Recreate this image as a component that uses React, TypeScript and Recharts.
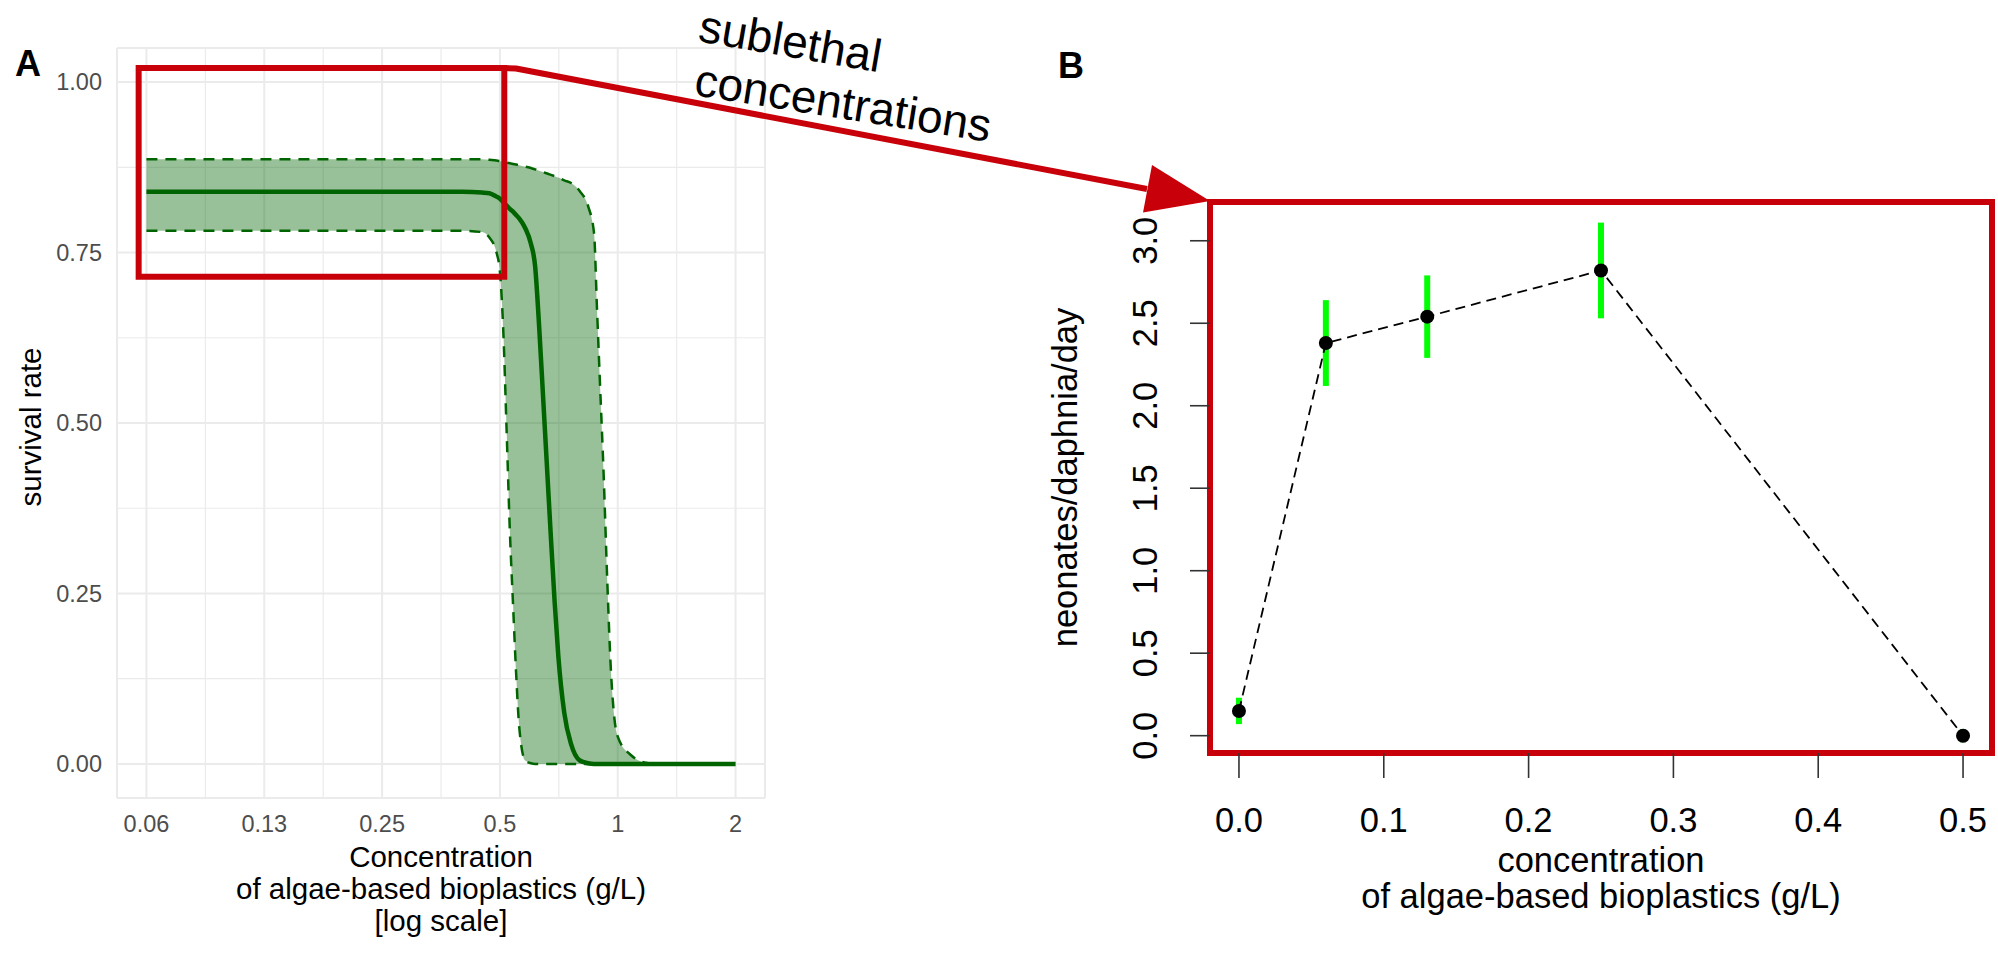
import React from 'react'
import {
  ComposedChart, Area, Line, XAxis, YAxis, CartesianGrid,
  ReferenceLine, ReferenceArea, ErrorBar,
} from 'recharts'

const FONT = '"Liberation Sans", Arial, Helvetica, sans-serif'
const RED = '#c8000a'
const DARKGREEN = '#006400'

// Panel A: survival rate vs concentration (log scale), fitted curve + band
const CONC_A = [0.0625, 0.2, 0.4, 0.45, 0.47, 0.49, 0.5, 0.51, 0.52, 0.53, 0.54, 0.55, 0.56, 0.58, 0.6, 0.615, 0.63, 0.645, 0.66, 0.675, 0.69, 0.705, 0.73, 0.76, 0.8, 0.84, 0.87, 0.885, 0.9, 0.92, 0.94, 0.96, 0.98, 1.0, 1.08, 1.2, 1.4, 2.0]
const SURV_FIT = [0.839, 0.839, 0.839, 0.838, 0.837, 0.832, 0.829, 0.824, 0.819, 0.814, 0.81, 0.805, 0.8, 0.786, 0.763, 0.73, 0.64, 0.535, 0.432, 0.331, 0.237, 0.158, 0.075, 0.029, 0.005, 0.001, 0, 0, 0, 0, 0, 0, 0, 0, 0, 0, 0, 0]
const SURV_UPPER = [0.887, 0.887, 0.887, 0.887, 0.886, 0.885, 0.884, 0.883, 0.882, 0.881, 0.88, 0.879, 0.878, 0.876, 0.874, 0.872, 0.87, 0.868, 0.866, 0.864, 0.862, 0.86, 0.856, 0.852, 0.84, 0.818, 0.778, 0.668, 0.563, 0.427, 0.27, 0.14, 0.068, 0.04, 0.013, 0.001, 0, 0]
const SURV_LOWER = [0.782, 0.782, 0.782, 0.78, 0.772, 0.75, 0.722, 0.635, 0.49, 0.343, 0.235, 0.133, 0.055, 0.005, 0.001, 0, 0, 0, 0, 0, 0, 0, 0, 0, 0, 0, 0, 0, 0, 0, 0, 0, 0, 0, 0, 0, 0, 0]

const A_X_TICKS = [0.0625, 0.125, 0.25, 0.5, 1, 2]
const A_X_LABELS = ['0.06', '0.13', '0.25', '0.5', '1', '2']
const A_Y_TICKS = [0, 0.25, 0.5, 0.75, 1]
const A_MINOR_X = [0.0884, 0.1768, 0.3536, 0.7071, 1.4142]
const A_MINOR_Y = [0.125, 0.375, 0.625, 0.875]
const A_XTITLE = ['Concentration', 'of algae-based bioplastics (g/L)', '[log scale]']

// Panel B: reproduction at sublethal concentrations
const B_CONC = [0, 0.06, 0.13, 0.25, 0.5]
const B_NEONATES = [0.15, 2.38, 2.54, 2.82, 0]
const B_ERR = [0.08, 0.26, 0.25, 0.29, 0.04]
const B_X_TICKS = [0, 0.1, 0.2, 0.3, 0.4, 0.5]
const B_Y_TICKS = [0, 0.5, 1, 1.5, 2, 2.5, 3]
const B_XTITLE = ['concentration', 'of algae-based bioplastics (g/L)']

function XTitle({ viewBox, lines, first, step, size, fallback }: any) {
  const vb = viewBox || fallback
  const cx = vb.x + vb.width / 2
  return (
    <text textAnchor="middle" fontSize={size} fill="#000" fontFamily={FONT}>
      {lines.map((l: string, i: number) => (
        <tspan key={i} x={cx} y={vb.y + first + i * step}>{l}</tspan>
      ))}
    </text>
  )
}

function YTitle({ viewBox, text, bx, dy, size, fallback }: any) {
  const vb = viewBox || fallback
  const x = vb.x + bx
  const y = vb.y + vb.height / 2 + dy
  return (
    <text x={x} y={y} transform={`rotate(-90, ${x}, ${y})`} textAnchor="middle" fontSize={size} fill="#000" fontFamily={FONT}>
      {text}
    </text>
  )
}

function RotatedTick(props: any) {
  const { x, y, payload } = props
  return (
    <text x={x} y={y} transform={`rotate(-90, ${x}, ${y})`} textAnchor="middle" fontSize={34.5} fill="#000" fontFamily={FONT}>
      {Number(payload.value).toFixed(1)}
    </text>
  )
}

function PanelA() {
  const data = CONC_A.map((c, i) => ({
    conc: c,
    fit: SURV_FIT[i],
    upper: SURV_UPPER[i],
    lower: SURV_LOWER[i],
    band: [SURV_LOWER[i], SURV_UPPER[i]],
  }))
  return (
    <ComposedChart width={800} height={957} data={data} margin={{ top: 48, right: 35, bottom: 0, left: 0 }}>
      <CartesianGrid stroke="#ebebeb" strokeWidth={2} />
      {A_MINOR_X.map(v => <ReferenceLine key={'mx' + v} x={v} stroke="#ebebeb" strokeWidth={1.2} zIndex={-50} />)}
      {A_MINOR_Y.map(v => <ReferenceLine key={'my' + v} y={v} stroke="#ebebeb" strokeWidth={1.2} zIndex={-50} />)}
      <XAxis
        dataKey="conc" type="number" scale="log" domain={[0.05256, 2.378]} allowDataOverflow
        ticks={A_X_TICKS} tickFormatter={(v: number) => A_X_LABELS[A_X_TICKS.indexOf(v)] ?? String(v)}
        axisLine={false} tickLine={false} tickSize={0} tickMargin={17} height={159}
        tick={{ fill: '#4d4d4d', fontSize: 23.5, fontFamily: FONT }}
        label={{ content: (p: any) => <XTitle viewBox={p.viewBox} lines={A_XTITLE} first={69} step={32} size={29.5} fallback={{ x: 117, y: 798, width: 648, height: 159 }} /> }}
      />
      <YAxis
        type="number" domain={[-0.05, 1.05]} allowDataOverflow ticks={A_Y_TICKS}
        tickFormatter={(v: number) => v.toFixed(2)} width={117}
        axisLine={false} tickLine={false} tickSize={0} tickMargin={15}
        tick={{ fill: '#4d4d4d', fontSize: 23.5, fontFamily: FONT }}
        label={{ content: (p: any) => <YTitle viewBox={p.viewBox} text="survival rate" bx={41} dy={4} size={29.5} fallback={{ x: 0, y: 48, width: 117, height: 750 }} /> }}
      />
      <Area dataKey="band" type="monotone" stroke="none" fill={DARKGREEN} fillOpacity={0.4} isAnimationActive={false} />
      <Line dataKey="upper" type="monotone" stroke={DARKGREEN} strokeWidth={2.5} strokeDasharray="11 8" dot={false} isAnimationActive={false} />
      <Line dataKey="lower" type="monotone" stroke={DARKGREEN} strokeWidth={2.5} strokeDasharray="11 8" dot={false} isAnimationActive={false} />
      <Line dataKey="fit" type="monotone" stroke={DARKGREEN} strokeWidth={4.5} dot={false} isAnimationActive={false} />
      <ReferenceArea x1={0.0597} x2={0.513} y1={0.7145} y2={1.0207} fill="none" fillOpacity={0} stroke={RED} strokeWidth={6} ifOverflow="visible" zIndex={1000} />
    </ComposedChart>
  )
}

function PanelB() {
  const data = B_CONC.map((c, i) => ({ conc: c, rate: B_NEONATES[i], err: B_ERR[i] }))
  return (
    <ComposedChart width={998} height={957} data={data} margin={{ top: 202, right: 6, bottom: 0, left: 0 }}>
      <XAxis
        dataKey="conc" type="number" domain={[-0.02, 0.52]} allowDataOverflow ticks={B_X_TICKS}
        tickFormatter={(v: number) => v.toFixed(1)}
        axisLine={false} tickLine={{ stroke: '#333', strokeWidth: 1.6 }} tickSize={25} tickMargin={29.5} height={204}
        tick={{ fill: '#000', fontSize: 34.5, fontFamily: FONT }}
        label={{ content: (p: any) => <XTitle viewBox={p.viewBox} lines={B_XTITLE} first={119} step={36} size={34.5} fallback={{ x: 210, y: 753, width: 782, height: 204 }} /> }}
      />
      <YAxis
        type="number" domain={[-0.105, 3.235]} allowDataOverflow ticks={B_Y_TICKS} width={210}
        axisLine={false} tickLine={{ stroke: '#333', strokeWidth: 1.6 }} tickSize={20} tickMargin={33}
        tick={<RotatedTick />}
        label={{ content: (p: any) => <YTitle viewBox={p.viewBox} text="neonates/daphnia/day" bx={77} dy={0} size={34.5} fallback={{ x: 0, y: 202, width: 210, height: 551 }} /> }}
      />
      <Line dataKey="rate" type="linear" stroke="#000" strokeWidth={1.8} strokeDasharray="10 6"
        dot={{ r: 7, fill: '#000', stroke: 'none' }} isAnimationActive={false}>
        <ErrorBar dataKey="err" direction="y" width={0} stroke="#00ff00" strokeWidth={6} />
      </Line>
      <ReferenceArea x1={-0.02} x2={0.52} y1={-0.105} y2={3.235} fill="none" fillOpacity={0} stroke={RED} strokeWidth={6} ifOverflow="visible" />
    </ComposedChart>
  )
}

function Overlay() {
  return (
    <svg width={1998} height={957} style={{ position: 'absolute', left: 0, top: 0, pointerEvents: 'none' }} fontFamily={FONT}>
      <text x={15} y={76} fontSize={36} fontWeight="bold">A</text>
      <text x={1058} y={78} fontSize={36} fontWeight="bold">B</text>
      <polyline points="501,68 516,68.5 1147,189" fill="none" stroke={RED} strokeWidth={6} strokeLinejoin="round" />
      <polygon points="1210,201 1152,165 1143,212.5" fill={RED} />
      <text x={697} y={41} fontSize={46} transform="rotate(9.8 697 41)">sublethal</text>
      <text x={693} y={95} fontSize={46} transform="rotate(9 693 95)">concentrations</text>
    </svg>
  )
}

export default function App() {
  return (
    <div style={{ position: 'absolute', left: 0, top: 0, width: 1998, height: 957, background: '#fff', fontFamily: FONT }}>
      <div style={{ position: 'absolute', left: 0, top: 0 }}>
        <PanelA />
      </div>
      <div style={{ position: 'absolute', left: 1000, top: 0 }}>
        <PanelB />
      </div>
      <Overlay />
    </div>
  )
}
